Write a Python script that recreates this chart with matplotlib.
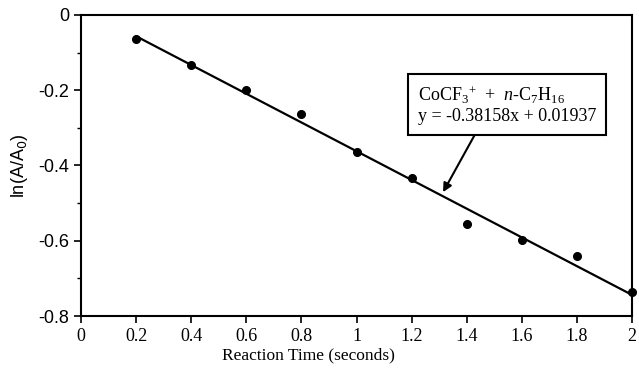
import numpy as np
import matplotlib
matplotlib.use("Agg")
import matplotlib.pyplot as plt
from matplotlib.ticker import MultipleLocator

plt.rcParams["font.family"] = "Liberation Serif"
plt.rcParams["mathtext.fontset"] = "custom"
plt.rcParams["mathtext.rm"] = "Liberation Serif"
plt.rcParams["mathtext.it"] = "Liberation Serif:italic"

# data
time_s = [0.2, 0.4, 0.6, 0.8, 1.0, 1.2, 1.4, 1.6, 1.8, 2.0]
ln_ratio = [-0.064, -0.133, -0.200, -0.262, -0.364, -0.434, -0.556, -0.598, -0.641, -0.737]
slope = -0.38158
intercept = 0.01937

fig = plt.figure(figsize=(6.39, 3.72), dpi=100)
ax = fig.add_axes([0.127, 0.1505, 0.862, 0.8095])

fit_x = np.array([time_s[0], time_s[-1]])
ax.plot(fit_x, slope * fit_x + intercept, color="black", linewidth=1.6)
ax.plot(time_s, ln_ratio, "o", color="black", markersize=5.5, clip_on=False)

ax.set_xlim(0, 2)
ax.set_ylim(-0.8, 0)
ax.set_xticks(np.arange(0, 2.01, 0.2))
ax.set_xticklabels(["0", "0.2", "0.4", "0.6", "0.8", "1", "1.2", "1.4", "1.6", "1.8", "2"])
ax.set_yticks([0, -0.2, -0.4, -0.6, -0.8])
ax.set_yticklabels(["0", "-0.2", "-0.4", "-0.6", "-0.8"], family="Liberation Sans")
ax.yaxis.set_minor_locator(MultipleLocator(0.1))
ax.tick_params(axis="both", which="major", labelsize=13, length=5, width=1.2, direction="out")
ax.tick_params(axis="y", which="minor", length=3, width=1.0, direction="out")
for sp in ax.spines.values():
    sp.set_linewidth(1.5)

ax.set_xlabel("Reaction Time (seconds)", fontsize=12.5, labelpad=2)
ax.xaxis.set_label_coords(0.412, -0.105)
ax.set_ylabel("ln(A/A$_0$)", fontsize=13, labelpad=6, family="Liberation Sans",
              math_fontfamily="dejavusans")

ax.annotate(
    "CoCF$_3$$^{+}$  +  $n$-C$_7$H$_{16}$\ny = -0.38158x + 0.01937",
    xy=(1.314, -0.471),
    xytext=(1.546, -0.239),
    textcoords="data",
    fontsize=13,
    ha="center",
    va="center",
    multialignment="left",
    linespacing=1.15,
    bbox=dict(boxstyle="square,pad=0.55", fc="white", ec="black", lw=1.5),
    arrowprops=dict(arrowstyle="-|>", color="black", lw=1.5, shrinkA=0, shrinkB=0,
                    relpos=(0.35, 0.0)),
)

fig.savefig("out.png", dpi=100)
